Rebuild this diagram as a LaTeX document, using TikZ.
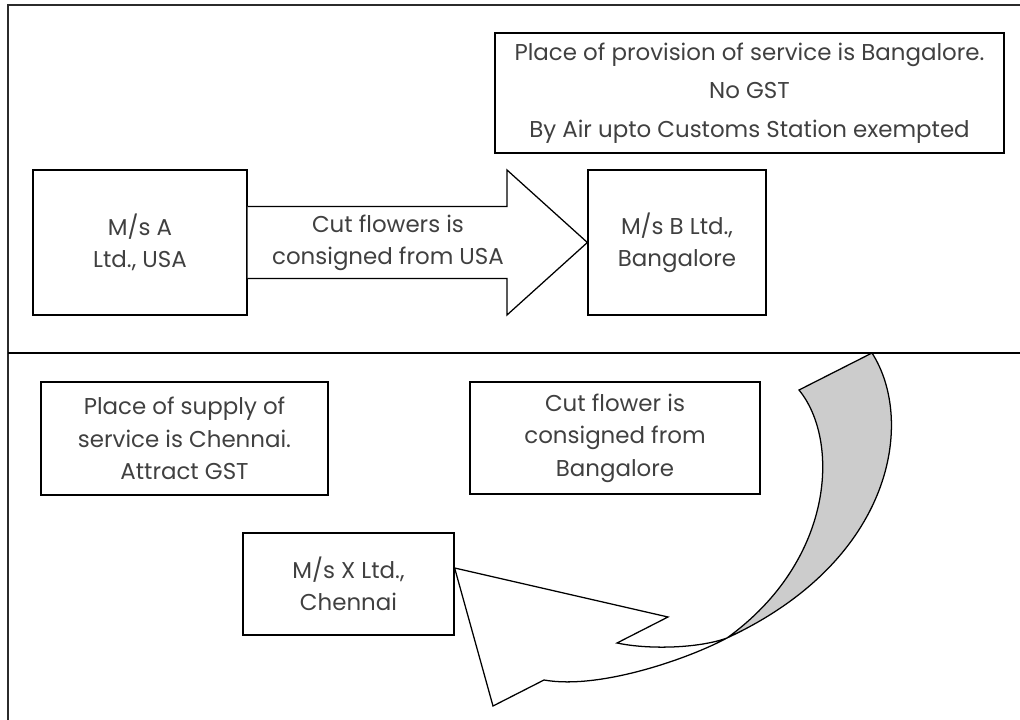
\documentclass[tikz,border=0pt]{standalone}
\usepackage{fontspec}
\setmainfont{Poppins}
\usetikzlibrary{calc,positioning}
\definecolor{FrameInk}{HTML}{2B2B2B}
\definecolor{TextInk}{HTML}{404040}
\definecolor{FoldGrey}{HTML}{CCCCCC}
\newlength\pxu
\setlength\pxu{0.025cm}

\begin{document}
\begin{tikzpicture}[x=\pxu,y=-\pxu,
    box/.style={draw=black,line width=0.9pt,align=center,text=TextInk,inner sep=0pt,
      font=\fontsize{16.3}{23}\selectfont},
    blockarrow/.style={draw=black,line width=0.9pt,fill=white,line join=miter}]
  \useasboundingbox (0,0) rectangle (1020,720);
  \draw[FrameInk,line width=1.8pt] (8,720) -- (8,5) -- (1020,5);
  \draw[black,line width=1.2pt] (8,353) -- (1020,353);

  \node[box,minimum width=509\pxu,minimum height=120\pxu] (note) at (749.5,93)
    {Place of provision of service is Bangalore.\\[4.5pt] No GST\\[4.5pt] By Air upto Customs Station exempted};
  \node[box,minimum width=214\pxu,minimum height=145\pxu] (usa) at (140,242.5)
    {M/s A\\ Ltd., USA};
  \node[box,minimum width=178\pxu,minimum height=145\pxu] (blr) at (677,242.5)
    {M/s B Ltd.,\\ Bangalore};

  \draw[blockarrow] ($(usa.east)+(0,-36)$) -| (507,170) -- (blr.west)
    -- (507,315) |- ($(usa.east)+(0,36)$);
  \node[text=TextInk,align=center,font=\fontsize{16.3}{23}\selectfont] (ship1) at (388,243)
    {Cut flowers is\\ consigned from USA};

  \node[box,minimum width=287\pxu,minimum height=113\pxu] (supply) at (184.5,438.5)
    {Place of supply of\\ service is Chennai.\\ Attract GST};
  \node[box,minimum width=290\pxu,minimum height=112\pxu] (ship2) at (615,438)
    {Cut flower is\\ consigned from\\ Bangalore};
  \node[box,minimum width=211\pxu,minimum height=102\pxu] (chn) at (348.5,584)
    {M/s X Ltd.,\\ Chennai};

  \coordinate (tailout) at (872,353);
  \coordinate (tailin) at (799,390);
  \coordinate (twist) at (727,638);
  \coordinate (basein) at (617,643);
  \coordinate (barbin) at (668,617);
  \coordinate (tip) at ($(chn.east)+(0,-16)$);
  \coordinate (barbout) at (493,706);
  \coordinate (baseout) at (544,680);
  \filldraw[fill=FoldGrey,line width=0.9pt] (tailout) .. controls (915,420) and (895,560) .. (twist)
    .. controls (835,560) and (840,440) .. (tailin) -- cycle;
  \filldraw[fill=white,line width=0.9pt,line join=miter] (twist) .. controls (690,658) and (600,690) .. (baseout)
    -- (barbout) -- (tip) -- (barbin) -- (basein) .. controls (650,650) and (700,648) .. (twist);
\end{tikzpicture}
\end{document}
